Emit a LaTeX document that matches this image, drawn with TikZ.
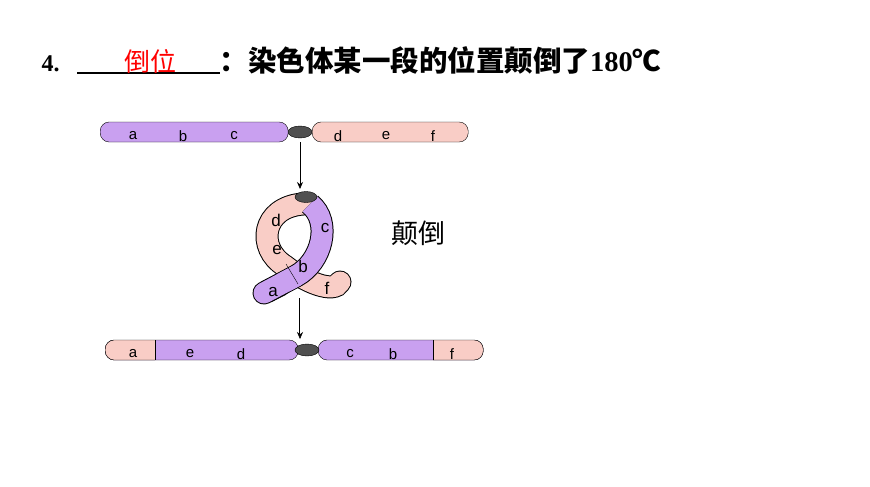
\documentclass[tikz,border=0pt]{standalone}
\usepackage{fontspec}
\setmainfont{Liberation Serif}
\newfontfamily\cjk{Noto Sans CJK SC}
\newfontfamily\lsans{Liberation Sans}
\usetikzlibrary{positioning, shapes.geometric}
\definecolor{violetarm}{HTML}{C9A0F0}
\definecolor{pinkarm}{HTML}{F9CDC6}
\definecolor{cendark}{HTML}{505050}
\tikzset{arm/.style={draw, rounded corners=9pt, minimum height=20pt, inner sep=0pt},
         gene/.style={font=\lsans\fontsize{15}{15}\selectfont, inner sep=0pt},
         centro/.style={draw, fill=cendark, ellipse, minimum width=24pt, minimum height=12pt, inner sep=0pt},
         arrow/.style={-{Stealth[length=7pt,width=6pt]}, line width=0.8pt}}
\usetikzlibrary{arrows.meta}
\begin{document}
\begin{tikzpicture}[x=1pt,y=-1pt]
\useasboundingbox (0,0) rectangle (870,487);
% title
\node (num) [anchor=base west, font=\bfseries\fontsize{24}{24}\selectfont] at (38,71) {4.};
\coordinate (ulA) at (77,73);
\coordinate (ulB) at (220,73);
\draw [line width=1.2pt] (ulA) -- (ulB);
\node (ans) [anchor=base, text=red, font=\cjk\fontsize{26}{26}\selectfont] at (150,71) {倒位};
\node (desc) [anchor=base west, font=\cjk\bfseries\fontsize{28.5}{28}\selectfont] at (216,71) {：染色体某一段的位置颠倒了{\rmfamily\bfseries 180}℃};
% top chromosome
\node (topL) [arm, fill=violetarm, minimum width=188pt, anchor=west] at (100,132) {};
\node (topR) [arm, fill=pinkarm, minimum width=156pt, anchor=west] at (312,132) {};
\node (topC) [centro] at (300,132) {};
\foreach \g/\x in {a/133,b/183,c/234,d/338,e/386,f/433}
  \node (top\g) [gene] at (\x,136) {\g};
% loop
\coordinate (loopC) at (306,197);
\draw [line width=23pt, line cap=round] (303,204) .. controls (262,207) and (256,248) .. (285,266) .. controls (305,282) and (334,294) .. (340,282);
\draw [line width=21pt, pinkarm, line cap=round] (303,204) .. controls (262,207) and (256,248) .. (285,266) .. controls (305,282) and (334,294) .. (340,282);
\draw [line width=23pt] (310,204) .. controls (332,222) and (322,262) .. (296,276) -- (266,292);
\draw [line width=21pt, violetarm] (310,204) .. controls (332,222) and (322,262) .. (296,276) -- (266,292);
\draw [line width=23pt, line cap=round] (280,285) -- (264,293);
\draw [line width=21pt, violetarm, line cap=round] (296,276) -- (264,293);
\draw (286,264) -- (298,284);
\node (midC) [centro, minimum width=22pt, minimum height=11pt] at (loopC) {};
\foreach \g/\x/\y in {d/276/220,e/277/250,c/325/228,b/303/266,a/273/292,f/327/288}
  \node (mid\g) [gene, font=\lsans\fontsize{17}{17}\selectfont] at (\x,\y) {\g};
\node (label) [font=\cjk\fontsize{27}{27}\selectfont] at (418,233) {颠倒};
% bottom chromosome
\node (botL) [arm, fill=violetarm, minimum width=193pt, anchor=west] at (105,350) {};
\node (botR) [arm, fill=violetarm, minimum width=165pt, anchor=west] at (318,350) {};
\begin{scope}
  \clip (105,340) rectangle (155,360);
  \node (botLa) [arm, fill=pinkarm, minimum width=193pt, anchor=west] at (105,350) {};
\end{scope}
\begin{scope}
  \clip (433,340) rectangle (484,360);
  \node (botRf) [arm, fill=pinkarm, minimum width=165pt, anchor=west] at (318,350) {};
\end{scope}
\draw (155,340) -- (155,360);
\draw (433,340) -- (433,360);
\node (botC) [centro] at (307,350) {};
\foreach \g/\x in {a/133,e/190,d/241,c/350,b/393,f/452}
  \node (bot\g) [gene] at (\x,354) {\g};
% arrows
\coordinate (arA) at (300,142);
\coordinate (arB) at (300,189);
\coordinate (arC) at (300,298);
\coordinate (arD) at (300,339);
\draw [arrow] (arA) -- (arB);
\draw [arrow, double, line width=0.5pt] (arC) -- (arD);
\end{tikzpicture}
\end{document}
